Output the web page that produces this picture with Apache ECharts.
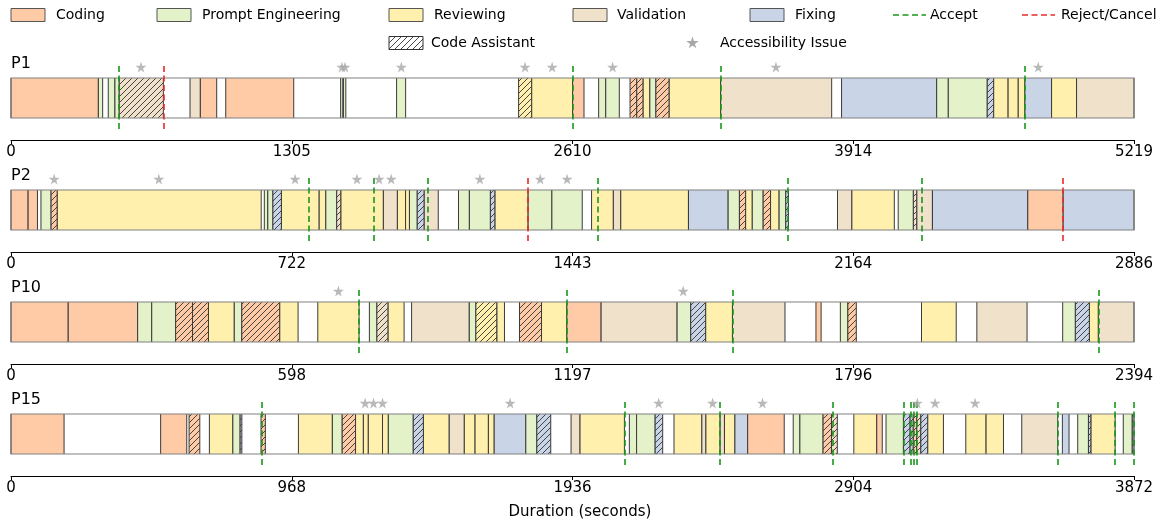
<!DOCTYPE html>
<html><head><meta charset="utf-8">
<script src="https://cdn.jsdelivr.net/npm/echarts@6/dist/echarts.min.js"></script>
<style>html,body{margin:0;padding:0;background:#fff}#c{width:1165px;height:523px}</style>
</head><body><div id="c"></div>
<script>
// ---------- data ----------
const KIND_CODES = ['C', 'P', 'R', 'V', 'F'];
const KIND_NAMES = ['Coding', 'Prompt Engineering', 'Reviewing', 'Validation', 'Fixing'];
const ROW_NAMES = ['P1', 'P2', 'P10', 'P15'];
const ROW_MAX = [5219, 2886, 2394, 3872];

const P1_TICKS = ['0', '1305', '2610', '3914', '5219'];
const P2_TICKS = ['0', '722', '1443', '2164', '2886'];
const P10_TICKS = ['0', '598', '1197', '1796', '2394'];
const P15_TICKS = ['0', '968', '1936', '2904', '3872'];

// [start, end, activity, code assistant (hatched)]
const P1_SEGMENTS = [
  [0,406,'C',0],[406,426,'P',0],[452,483,'P',0],[483,503,'P',0],[503,708,'V',1],
  [832,880,'V',0],[880,956,'C',0],[998,1314,'C',0],[1532,1542,'P',0],[1545,1556,'P',0],
  [1792,1834,'P',0],[2359,2420,'R',1],[2420,2610,'R',0],[2610,2663,'C',0],[2731,2764,'P',0],
  [2764,2827,'P',0],[2877,2908,'C',1],[2908,2938,'C',1],[2938,2969,'R',0],[2969,2997,'P',0],
  [2997,3059,'C',1],[3059,3298,'R',0],[3298,3814,'V',0],[3860,4302,'F',0],[4302,4356,'P',0],
  [4356,4537,'P',0],[4537,4567,'F',1],[4567,4634,'R',0],[4634,4681,'R',0],[4681,4712,'R',0],
  [4712,4836,'F',0],[4836,4952,'R',0],[4952,5219,'V',0]
];
const P1_ACCEPT = [503, 2610, 3298, 4712];
const P1_REJECT = [708];
const P1_STARS = [604, 1538, 1552, 1814, 2389, 2515, 2796, 3555, 4774];

const P2_SEGMENTS = [
  [0,44,'C',0],[44,68,'C',0],[77,103,'P',0],[103,119,'C',1],[119,643,'R',0],
  [651,660,'P',0],[660,673,'P',0],[673,695,'F',1],[695,792,'R',0],[792,809,'R',0],
  [809,837,'P',0],[837,848,'V',1],[848,957,'R',0],[957,993,'V',0],[993,1014,'R',0],
  [1014,1024,'R',0],[1024,1044,'P',0],[1044,1062,'F',1],[1062,1098,'V',0],[1150,1178,'P',0],
  [1178,1232,'P',0],[1232,1244,'F',1],[1244,1329,'R',0],[1329,1390,'P',0],[1390,1468,'P',0],
  [1492,1548,'R',0],[1548,1567,'V',0],[1567,1741,'R',0],[1741,1843,'F',0],[1843,1872,'P',0],
  [1872,1888,'C',1],[1888,1905,'R',0],[1905,1933,'P',0],[1933,1952,'C',1],[1952,1974,'R',0],
  [1974,1991,'P',0],[1991,1998,'F',1],[2124,2161,'V',0],[2161,2270,'R',0],[2280,2319,'P',0],
  [2319,2328,'V',1],[2328,2368,'V',0],[2368,2613,'F',0],[2613,2704,'C',0],[2704,2886,'F',0]
];
const P2_ACCEPT = [764, 933, 1071, 1509, 1996, 2341];
const P2_REJECT = [1329, 2704];
const P2_STARS = [111, 380, 730, 889, 946, 977, 1205, 1360, 1429];

const P10_SEGMENTS = [
  [0,122,'C',0],[122,270,'C',0],[270,300,'P',0],[300,351,'P',0],[351,387,'C',1],
  [387,421,'C',1],[421,476,'R',0],[476,492,'P',0],[492,573,'C',1],[573,612,'R',0],
  [654,742,'R',0],[764,780,'P',0],[780,804,'V',1],[804,838,'R',0],[854,977,'V',0],
  [977,991,'P',0],[991,1036,'R',1],[1036,1052,'R',0],[1084,1131,'C',1],[1131,1185,'R',0],
  [1185,1258,'C',0],[1258,1420,'V',0],[1420,1449,'P',0],[1449,1481,'F',1],[1481,1538,'R',0],
  [1538,1650,'V',0],[1716,1727,'C',0],[1768,1784,'P',0],[1784,1802,'C',1],[1941,2015,'R',0],
  [2059,2166,'V',0],[2242,2269,'P',0],[2269,2299,'F',1],[2299,2318,'R',0],[2318,2394,'V',0]
];
const P10_ACCEPT = [742, 1185, 1538, 2318];
const P10_REJECT = [];
const P10_STARS = [698, 1433];

const P15_SEGMENTS = [
  [0,183,'C',0],[516,606,'C',0],[614,651,'C',1],[684,765,'R',0],[765,790,'P',0],
  [790,796,'F',1],[862,877,'C',1],[991,1108,'R',0],[1108,1142,'P',0],[1142,1188,'C',1],
  [1188,1215,'R',0],[1215,1232,'R',0],[1232,1281,'R',0],[1281,1301,'R',0],[1301,1387,'P',0],
  [1387,1422,'F',1],[1422,1511,'R',0],[1511,1563,'V',0],[1563,1600,'R',0],[1600,1646,'R',0],
  [1646,1666,'R',0],[1666,1775,'F',0],[1775,1813,'P',0],[1813,1861,'F',1],[1931,1962,'V',0],
  [1962,2115,'R',0],[2132,2157,'P',0],[2157,2221,'P',0],[2221,2247,'F',1],[2286,2382,'R',0],
  [2382,2396,'V',0],[2396,2445,'R',0],[2445,2460,'V',0],[2460,2496,'R',0],[2496,2540,'F',0],
  [2540,2666,'C',0],[2697,2720,'P',0],[2720,2800,'P',0],[2800,2829,'C',1],[2829,2849,'V',1],
  [2906,2985,'R',0],[2985,3004,'C',0],[3017,3077,'P',0],[3077,3100,'F',1],[3100,3111,'F',1],
  [3111,3123,'C',1],[3123,3137,'V',1],[3137,3161,'F',1],[3161,3215,'R',0],[3292,3362,'R',0],
  [3362,3422,'R',0],[3485,3609,'V',0],[3625,3648,'F',0],[3678,3715,'P',0],[3715,3724,'F',1],
  [3724,3807,'R',0],[3835,3866,'P',0],[3866,3872,'F',1]
];
const P15_ACCEPT = [864, 2115, 2445, 2833, 3079, 3102, 3114, 3123, 3609, 3807, 3870];
const P15_REJECT = [];
const P15_STARS = [1221, 1250, 1281, 1721, 2233, 2419, 2591, 3125, 3186, 3324];

// ---------- styles ----------
const COLORS = { C: '#FECBA6', P: '#E3F2C9', R: '#FFF0AD', V: '#F0E1CB', F: '#C9D5E7' };
const GREEN = '#1a961a', RED = '#e62b2b', STAR_COLOR = '#a8a8a8';
const FONT = 'DejaVu Sans';
const STAR_PTS = [[50,0],[61,35],[98,35],[68,57],[79,91],[50,70],[21,91],[32,57],[2,35],[39,35]];
const STAR_PATH = 'M' + STAR_PTS.map(p => p[0] + ',' + p[1]).join(' L') + ' Z';

const ROWS = [
  { segs: P1_SEGMENTS, acc: P1_ACCEPT, rej: P1_REJECT, stars: P1_STARS, ticks: P1_TICKS },
  { segs: P2_SEGMENTS, acc: P2_ACCEPT, rej: P2_REJECT, stars: P2_STARS, ticks: P2_TICKS },
  { segs: P10_SEGMENTS, acc: P10_ACCEPT, rej: P10_REJECT, stars: P10_STARS, ticks: P10_TICKS },
  { segs: P15_SEGMENTS, acc: P15_ACCEPT, rej: P15_REJECT, stars: P15_STARS, ticks: P15_TICKS }
];

const GRID_LEFT = 11, GRID_RIGHT = 31, ROW_TOP0 = 63, ROW_STEP = 112, GRID_H = 66;
const BAR_TOP = 51, BAR_BOT = 11, STAR_Y = 62;
const HATCH_STEP = 6;

function hatchLines(x0, y0, x1, y1, color, width) {
  const out = [];
  let c = Math.ceil((x0 + y0) / HATCH_STEP) * HATCH_STEP;
  for (; c < x1 + y1; c += HATCH_STEP) {
    const xa = Math.max(x0, c - y1), xb = Math.min(x1, c - y0);
    if (xb > xa) out.push({ type: 'line', shape: { x1: xa, y1: c - xa, x2: xb, y2: c - xb },
      style: { stroke: color, lineWidth: width } });
  }
  return out;
}

function renderItem(params, api) {
  const s = api.value(0), e = api.value(1), k = api.value(2), h = api.value(3);
  const a = api.coord([s, BAR_TOP]), b = api.coord([e, BAR_BOT]);
  const x0 = a[0], x1 = b[0], y0 = a[1], y1 = b[1];
  const shape = { x: x0, y: y0, width: x1 - x0, height: y1 - y0 };
  if (k === -2) return { type: 'rect', shape, style: { fill: '#fff' } };
  if (k === -1) return { type: 'rect', shape, style: { fill: 'none', stroke: '#808080', lineWidth: 1.2 } };
  const children = [{ type: 'rect', shape, style: { fill: COLORS[KIND_CODES[k]] } }];
  if (h) hatchLines(x0, y0, x1, y1, '#333', 0.9).forEach(l => children.push(l));
  children.push({ type: 'line', shape: { x1: x0, y1: y0, x2: x0, y2: y1 }, style: { stroke: '#3a3a3a', lineWidth: 1 } });
  children.push({ type: 'line', shape: { x1: x1, y1: y0, x2: x1, y2: y1 }, style: { stroke: '#3a3a3a', lineWidth: 1 } });
  return { type: 'group', children };
}

const grids = [], xAxes = [], yAxes = [], series = [];
ROWS.forEach((row, i) => {
  const M = ROW_MAX[i];
  grids.push({ left: GRID_LEFT, right: GRID_RIGHT, top: ROW_TOP0 + ROW_STEP * i, height: GRID_H });
  xAxes.push({
    gridIndex: i, type: 'value', min: 0, max: M, interval: M / 4, offset: 11,
    axisLine: { show: true, onZero: false, lineStyle: { color: '#000', width: 1 } },
    axisTick: { show: true, length: 4, lineStyle: { color: '#000', width: 1 } },
    axisLabel: { fontSize: 15, fontFamily: FONT, color: '#000', margin: 5,
      showMinLabel: true, showMaxLabel: true,
      formatter: v => row.ticks[Math.round(v / (M / 4))] },
    splitLine: { show: false }
  });
  yAxes.push({ gridIndex: i, type: 'value', min: 0, max: GRID_H, show: false });
  const data = [[0, M, -2, 0]]
    .concat(row.segs.map(d => [d[0], d[1], KIND_CODES.indexOf(d[2]), d[3]]))
    .concat([[0, M, -1, 0]]);
  series.push({
    type: 'custom', xAxisIndex: i, yAxisIndex: i, renderItem, clip: false, silent: true,
    data, encode: { x: [0, 1], y: [] }, z: 2,
    markLine: {
      silent: true, symbol: ['none', 'none'], label: { show: false }, z: 5,
      lineStyle: { type: [6, 3.5], width: 1.6 },
      data: row.acc.map(v => ({ xAxis: v, lineStyle: { color: GREEN, type: [6, 3.5], width: 1.6 } }))
        .concat(row.rej.map(v => ({ xAxis: v, lineStyle: { color: RED, type: [6, 3.5], width: 1.6 } })))
    }
  });
  series.push({
    type: 'scatter', xAxisIndex: i, yAxisIndex: i, silent: true, z: 6,
    symbol: 'path://' + STAR_PATH, symbolSize: 11, itemStyle: { color: STAR_COLOR },
    data: row.stars.map(v => [v, STAR_Y])
  });
});

// ---------- legend & titles (graphic) ----------
const graphic = [];
const LEG1_Y = 15, LEG2_Y = 43, SW_W = 34, SW_H = 13;
const legendPatches = [
  { code: 'C', x: 11, tx: 56 }, { code: 'P', x: 157, tx: 202 }, { code: 'R', x: 389, tx: 434 },
  { code: 'V', x: 573, tx: 617 }, { code: 'F', x: 750, tx: 795 }
];
legendPatches.forEach(p => {
  graphic.push({ type: 'rect', shape: { x: p.x, y: LEG1_Y - SW_H / 2, width: SW_W, height: SW_H },
    style: { fill: COLORS[p.code], stroke: '#555', lineWidth: 1 } });
  graphic.push({ type: 'text', x: p.tx, y: LEG1_Y, style: { text: KIND_NAMES[KIND_CODES.indexOf(p.code)],
    font: '14px "' + FONT + '"', fill: '#000', verticalAlign: 'middle' } });
});
[[893, 930, 'Accept', GREEN], [1022, 1061, 'Reject/Cancel', RED]].forEach(l => {
  graphic.push({ type: 'line', shape: { x1: l[0], y1: LEG1_Y, x2: l[0] + 33, y2: LEG1_Y },
    style: { stroke: l[3], lineWidth: 1.6, lineDash: [6, 3.5] } });
  graphic.push({ type: 'text', x: l[1], y: LEG1_Y, style: { text: l[2], font: '14px "' + FONT + '"',
    fill: '#000', verticalAlign: 'middle' } });
});
// code assistant hatched swatch
graphic.push({ type: 'rect', shape: { x: 389, y: LEG2_Y - SW_H / 2, width: SW_W, height: SW_H },
  style: { fill: '#fff', stroke: '#333', lineWidth: 1 } });
hatchLines(389, LEG2_Y - SW_H / 2, 389 + SW_W, LEG2_Y + SW_H / 2, '#333', 0.9).forEach(l => graphic.push(l));
graphic.push({ type: 'text', x: 431, y: LEG2_Y, style: { text: 'Code Assistant', font: '14px "' + FONT + '"',
  fill: '#000', verticalAlign: 'middle' } });
const STAR_LEG_SIZE = 13;
graphic.push({ type: 'polygon', shape: { points: STAR_PTS.map(p => [686 + p[0] / 100 * STAR_LEG_SIZE,
  LEG2_Y - 6.5 + p[1] / 100 * STAR_LEG_SIZE]) }, style: { fill: STAR_COLOR } });
graphic.push({ type: 'text', x: 720, y: LEG2_Y, style: { text: 'Accessibility Issue', font: '14px "' + FONT + '"',
  fill: '#000', verticalAlign: 'middle' } });

ROW_NAMES.forEach((n, i) => {
  graphic.push({ type: 'text', x: 11, y: ROW_TOP0 + ROW_STEP * i + 0.5, style: { text: n,
    font: '16px "' + FONT + '"', fill: '#000', verticalAlign: 'middle' } });
});
graphic.push({ type: 'text', x: 580, y: 512, style: { text: 'Duration (seconds)', font: '15px "' + FONT + '"',
  fill: '#000', align: 'center', verticalAlign: 'middle' } });

const chart = echarts.init(document.getElementById('c'), null, { renderer: 'canvas' });
chart.setOption({
  animation: false, backgroundColor: '#fff',
  grid: grids, xAxis: xAxes, yAxis: yAxes, series, graphic
});
</script></body></html>
